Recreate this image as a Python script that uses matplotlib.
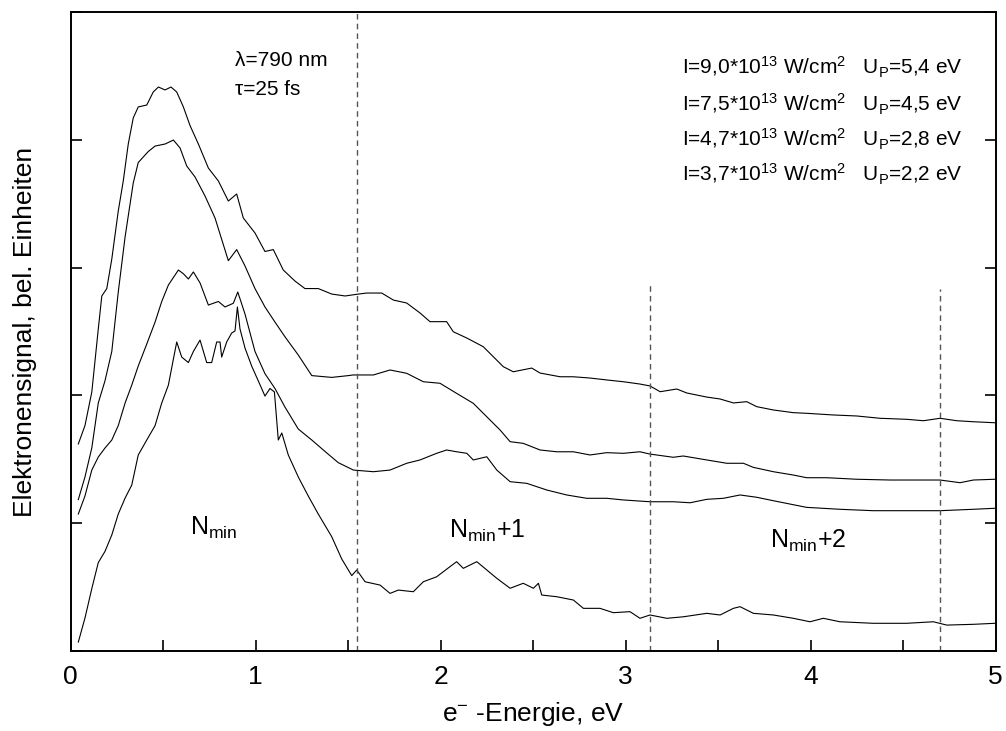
import matplotlib
matplotlib.use("Agg")
import matplotlib.pyplot as plt
from matplotlib.ticker import MultipleLocator, NullFormatter

plt.rcParams['font.family'] = ['Liberation Sans', 'DejaVu Sans']
plt.rcParams['mathtext.default'] = 'regular'

# Spectra (energy in eV, signal in arbitrary units)
# I = 9.0e13 W/cm2
energy_a = [0.041, 0.077, 0.114, 0.149, 0.168, 0.195, 0.222, 0.257, 0.284, 0.311,
            0.338, 0.365, 0.411, 0.446, 0.474, 0.510, 0.542, 0.573, 0.609, 0.645,
            0.690, 0.744, 0.798, 0.852, 0.897, 0.933, 0.996, 1.050, 1.095, 1.149,
            1.212, 1.266, 1.338, 1.411, 1.483, 1.555, 1.600, 1.681, 1.744, 1.816,
            1.888, 1.942, 2.032, 2.068, 2.141, 2.230, 2.284, 2.338, 2.392, 2.492,
            2.537, 2.645, 2.715, 2.807, 2.897, 2.987, 3.077, 3.131, 3.186, 3.276,
            3.330, 3.438, 3.510, 3.582, 3.654, 3.708, 3.798, 3.906, 3.978, 4.122,
            4.249, 4.375, 4.519, 4.609, 4.699, 4.789, 4.879, 4.996]
signal_a = [1.620, 1.764, 2.027, 2.520, 2.778, 2.836, 3.067, 3.443, 3.678, 3.967,
            4.171, 4.257, 4.272, 4.374, 4.413, 4.390, 4.413, 4.374, 4.257, 4.111,
            3.967, 3.779, 3.678, 3.521, 3.576, 3.388, 3.271, 3.126, 3.141, 2.981,
            2.895, 2.836, 2.836, 2.793, 2.778, 2.793, 2.801, 2.801, 2.746, 2.723,
            2.645, 2.577, 2.577, 2.498, 2.449, 2.381, 2.303, 2.225, 2.185, 2.214,
            2.175, 2.146, 2.146, 2.136, 2.121, 2.107, 2.089, 2.074, 2.029, 2.050,
            2.019, 1.987, 1.972, 1.941, 1.951, 1.912, 1.886, 1.865, 1.860, 1.847,
            1.839, 1.821, 1.813, 1.802, 1.821, 1.802, 1.794, 1.786]

# I = 7.5e13 W/cm2
energy_b = [0.041, 0.077, 0.114, 0.149, 0.185, 0.222, 0.257, 0.294, 0.338, 0.365,
            0.392, 0.419, 0.456, 0.510, 0.555, 0.591, 0.627, 0.672, 0.726, 0.780,
            0.852, 0.897, 0.942, 0.996, 1.050, 1.104, 1.158, 1.230, 1.303, 1.411,
            1.501, 1.526, 1.636, 1.726, 1.816, 1.906, 1.996, 2.086, 2.176, 2.249,
            2.321, 2.375, 2.446, 2.537, 2.627, 2.717, 2.807, 2.897, 2.987, 3.077,
            3.131, 3.257, 3.311, 3.438, 3.546, 3.636, 3.690, 3.798, 3.906, 3.978,
            4.086, 4.249, 4.429, 4.609, 4.699, 4.807, 4.879, 4.996]
signal_b = [1.185, 1.362, 1.590, 1.941, 2.113, 2.344, 2.809, 3.242, 3.662, 3.822,
            3.865, 3.908, 3.951, 3.967, 3.998, 3.936, 3.795, 3.709, 3.560, 3.388,
            3.054, 3.141, 3.013, 2.836, 2.692, 2.574, 2.459, 2.316, 2.155, 2.141,
            2.155, 2.160, 2.160, 2.199, 2.173, 2.107, 2.095, 2.016, 1.938, 1.833,
            1.729, 1.638, 1.625, 1.573, 1.559, 1.559, 1.534, 1.552, 1.547, 1.559,
            1.541, 1.516, 1.526, 1.495, 1.469, 1.469, 1.437, 1.403, 1.377, 1.356,
            1.356, 1.344, 1.338, 1.338, 1.338, 1.317, 1.338, 1.344]

# I = 4.7e13 W/cm2
energy_c = [0.041, 0.077, 0.114, 0.149, 0.185, 0.222, 0.257, 0.294, 0.330, 0.365,
            0.411, 0.456, 0.492, 0.528, 0.582, 0.609, 0.636, 0.663, 0.699, 0.744,
            0.798, 0.834, 0.879, 0.903, 0.942, 0.996, 1.050, 1.104, 1.158, 1.230,
            1.303, 1.375, 1.446, 1.528, 1.636, 1.726, 1.816, 1.888, 1.978, 2.032,
            2.086, 2.141, 2.176, 2.249, 2.303, 2.375, 2.465, 2.573, 2.681, 2.789,
            2.897, 2.987, 3.131, 3.257, 3.348, 3.438, 3.528, 3.618, 3.708, 3.798,
            3.888, 3.978, 4.158, 4.338, 4.519, 4.699, 4.879, 4.996]
signal_c = [1.072, 1.213, 1.416, 1.518, 1.588, 1.651, 1.764, 1.941, 2.081, 2.230,
            2.402, 2.574, 2.735, 2.864, 2.981, 2.952, 2.911, 2.966, 2.880, 2.707,
            2.735, 2.692, 2.721, 2.809, 2.637, 2.344, 2.170, 2.054, 1.909, 1.737,
            1.651, 1.561, 1.474, 1.416, 1.403, 1.416, 1.469, 1.495, 1.547, 1.573,
            1.559, 1.547, 1.495, 1.520, 1.416, 1.325, 1.312, 1.260, 1.221, 1.195,
            1.195, 1.182, 1.168, 1.168, 1.160, 1.187, 1.195, 1.221, 1.203, 1.176,
            1.150, 1.124, 1.109, 1.098, 1.098, 1.098, 1.109, 1.117]

# I = 3.7e13 W/cm2
energy_d = [0.041, 0.077, 0.114, 0.149, 0.185, 0.222, 0.257, 0.294, 0.330, 0.365,
            0.411, 0.456, 0.492, 0.528, 0.555, 0.573, 0.600, 0.636, 0.663, 0.699,
            0.735, 0.762, 0.789, 0.807, 0.816, 0.843, 0.870, 0.888, 0.901, 0.915,
            0.942, 0.978, 1.014, 1.050, 1.077, 1.101, 1.122, 1.141, 1.176, 1.230,
            1.284, 1.338, 1.411, 1.465, 1.519, 1.546, 1.591, 1.672, 1.726, 1.771,
            1.852, 1.906, 1.978, 2.050, 2.086, 2.122, 2.195, 2.249, 2.303, 2.375,
            2.446, 2.501, 2.528, 2.546, 2.627, 2.717, 2.771, 2.861, 2.933, 3.023,
            3.077, 3.131, 3.222, 3.312, 3.438, 3.510, 3.582, 3.618, 3.690, 3.798,
            3.906, 3.996, 4.068, 4.158, 4.338, 4.519, 4.663, 4.735, 4.879, 4.996]
signal_d = [0.070, 0.258, 0.489, 0.692, 0.779, 0.908, 1.072, 1.197, 1.299, 1.534,
            1.651, 1.764, 1.941, 2.081, 2.285, 2.418, 2.300, 2.257, 2.344, 2.433,
            2.257, 2.257, 2.418, 2.418, 2.300, 2.418, 2.488, 2.504, 2.692, 2.520,
            2.371, 2.230, 2.113, 1.995, 2.054, 2.027, 1.651, 1.706, 1.534, 1.362,
            1.213, 1.072, 0.894, 0.720, 0.590, 0.634, 0.542, 0.516, 0.451, 0.477,
            0.464, 0.542, 0.581, 0.660, 0.699, 0.647, 0.699, 0.634, 0.569, 0.491,
            0.530, 0.491, 0.530, 0.438, 0.425, 0.399, 0.334, 0.334, 0.300, 0.308,
            0.256, 0.282, 0.256, 0.268, 0.295, 0.282, 0.334, 0.347, 0.295, 0.282,
            0.256, 0.229, 0.256, 0.229, 0.217, 0.217, 0.229, 0.203, 0.209, 0.217]

# N-photon thresholds (dashed lines) and their heights
threshold_x = [1.55, 3.13, 4.70]
threshold_top = [5.0, 2.87, 2.83]

legend_rows = [r'I=9,0*10$^{13}$ W/cm$^{2}$   U$_{P}$=5,4 eV',
               r'I=7,5*10$^{13}$ W/cm$^{2}$   U$_{P}$=4,5 eV',
               r'I=4,7*10$^{13}$ W/cm$^{2}$   U$_{P}$=2,8 eV',
               r'I=3,7*10$^{13}$ W/cm$^{2}$   U$_{P}$=2,2 eV']
legend_y = [4.507, 4.218, 3.944, 3.670]

order_labels = [r'N$_{min}$', r'N$_{min}$+1', r'N$_{min}$+2']
order_x = [0.645, 2.045, 3.78]
order_y = [0.908, 0.884, 0.806]

fig = plt.figure(figsize=(10.06, 7.31), dpi=100)
ax = fig.add_axes([0.0703, 0.1094, 0.9195, 0.8742])

for xs, ys in [(energy_a, signal_a), (energy_b, signal_b),
               (energy_c, signal_c), (energy_d, signal_d)]:
    ax.plot(xs, ys, color='black', lw=0.8)

for xv, top in zip(threshold_x, threshold_top):
    ax.vlines(xv, 0, top, colors='#555555', linestyles=(0, (4, 3)), lw=1.0)

ax.set_xlim(0, 5)
ax.set_ylim(0, 5)
ax.xaxis.set_major_locator(MultipleLocator(1))
ax.xaxis.set_minor_locator(MultipleLocator(0.5))
ax.yaxis.set_major_locator(MultipleLocator(1))
ax.yaxis.set_major_formatter(NullFormatter())
ax.tick_params(axis='both', which='both', direction='in', width=1.2,
               length=8, labelsize=19, pad=10)
ax.tick_params(axis='y', which='both', right=True, left=True)
ax.tick_params(axis='x', which='both', top=False)
for sp in ax.spines.values():
    sp.set_linewidth(1.4)

ax.set_xlabel(r'e$^{-}$ -Energie, eV', fontsize=19, labelpad=8)
ax.set_ylabel('Elektronensignal, bel. Einheiten', fontsize=19, labelpad=14)

ax.text(0.888, 4.577, 'λ=790 nm', fontsize=15, va='baseline')
ax.text(0.888, 4.351, 'τ=25 fs', fontsize=15, va='baseline')

for txt, yy in zip(legend_rows, legend_y):
    ax.text(3.305, yy, txt, fontsize=15, va='baseline')

for txt, xx, yy in zip(order_labels, order_x, order_y):
    ax.text(xx, yy, txt, fontsize=18, va='baseline')

fig.savefig('out.png', dpi=100)
